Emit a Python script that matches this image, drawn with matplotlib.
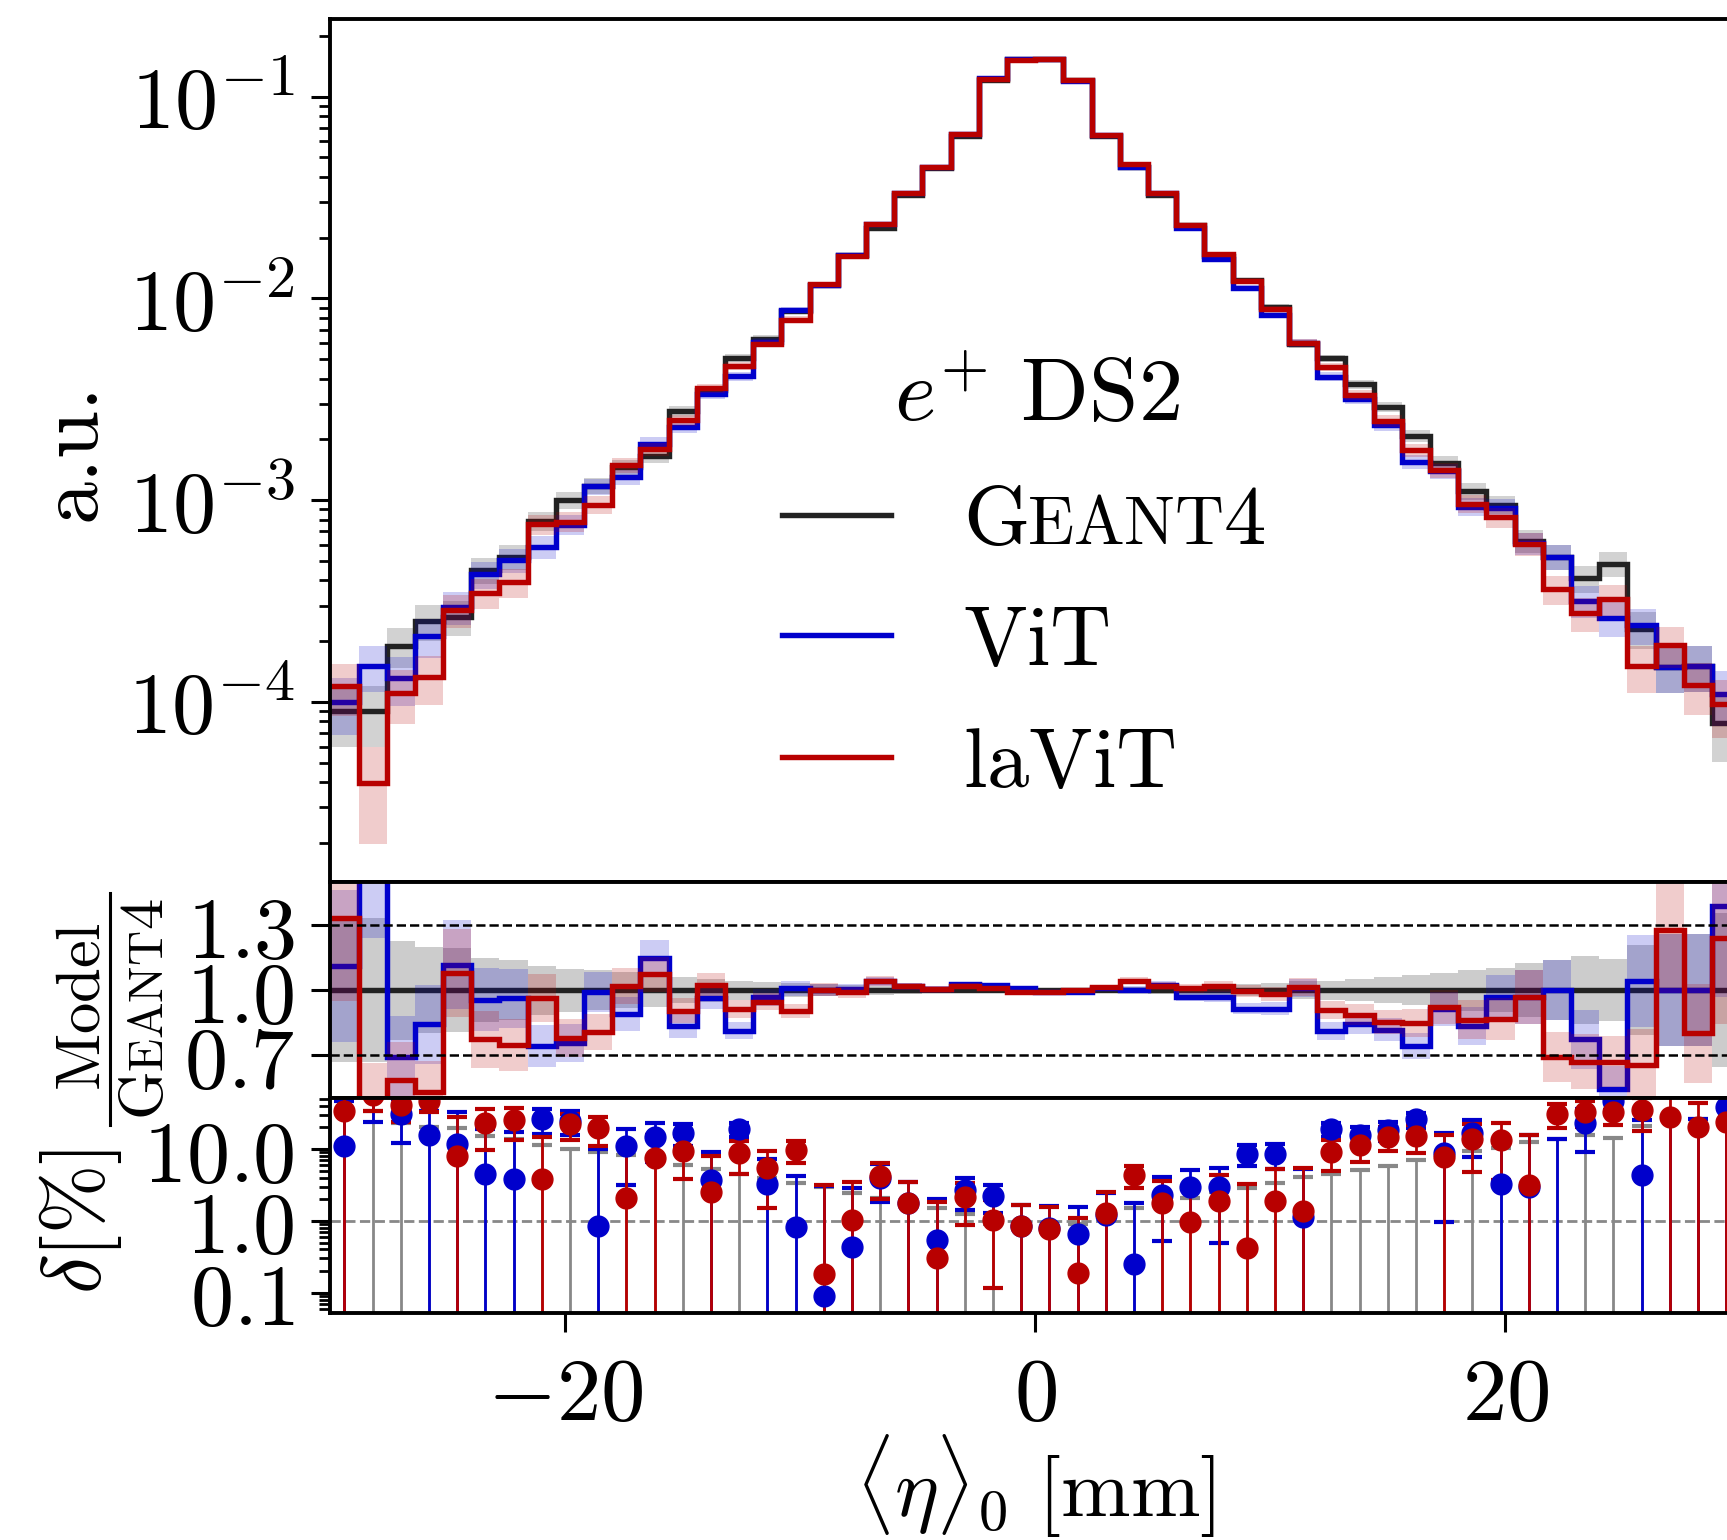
import matplotlib
matplotlib.use("Agg")
import matplotlib.pyplot as plt
import numpy as np
from matplotlib.lines import Line2D
from matplotlib.ticker import LogLocator, NullFormatter

plt.rcParams['mathtext.fontset'] = 'cm'
plt.rcParams['font.family'] = 'serif'
plt.rcParams['font.serif'] = ['DejaVu Serif']

## binning of <eta>_0 [mm]
x_lo, x_hi, n_bins = -30.0, 30.0, 50
N_EVENTS = 100000   # events per sample, sets the Poisson bands

## Geant4 histogram (fraction of showers per bin)
geant4 = [9.0e-5, 9.0e-5, 1.90e-4, 2.51e-4, 2.64e-4, 4.50e-4, 5.24e-4, 7.88e-4, 1.00e-3, 1.18e-3,
          1.46e-3, 1.66e-3, 2.75e-3, 3.50e-3, 5.07e-3, 6.30e-3, 8.70e-3, 1.17e-2, 1.64e-2, 2.24e-2,
          3.26e-2, 4.45e-2, 6.38e-2, 0.121, 0.153, 0.154, 0.121, 0.0635, 0.0446, 0.0326,
          0.0230, 0.0162, 0.0123, 9.03e-3, 5.95e-3, 5.04e-3, 3.75e-3, 2.90e-3, 2.09e-3, 1.53e-3,
          1.11e-3, 9.46e-4, 6.29e-4, 5.25e-4, 4.10e-4, 4.83e-4, 2.30e-4, 1.49e-4, 1.51e-4, 7.85e-5]

## Model / Geant4 per bin
vit_ratio = [1.11, 1.67, 0.69, 0.842, 1.118, 0.955, 0.962, 0.742, 0.755, 0.9915,
             0.89, 1.148, 0.835, 0.963, 0.812, 0.967, 1.0083, 1.0009, 1.0043, 1.040,
             1.0176, 1.0054, 1.027, 1.022, 1.0085, 0.992, 0.9934, 1.012, 1.0025, 1.023,
             0.970, 0.9706, 0.915, 0.915, 1.0115, 0.812, 0.844, 0.816, 0.742, 0.913,
             0.835, 0.967, 0.970, 1.0003, 0.773, 0.542, 1.0435, 1.0003, 1.0003, 1.387]
lavit_ratio = [1.334, 0.44, 0.585, 0.529, 1.08, 0.773, 0.747, 0.962, 0.78, 0.806,
               1.021, 1.074, 0.905, 1.0255, 0.913, 0.946, 0.903, 1.0018, 0.9897, 1.042,
               1.0176, 1.003, 1.0213, 1.0103, 0.9915, 0.9923, 1.0019, 1.0128, 1.0435, 1.018,
               1.0095, 1.0186, 0.9958, 0.981, 1.0135, 0.908, 0.886, 0.852, 0.849, 0.922,
               0.864, 0.867, 0.968, 0.69, 0.67, 0.67, 0.652, 1.28, 0.80, 1.24]

top_ticks = [1e-4, 1e-3, 1e-2, 1e-1]
top_labels = [r'$10^{-4}$', r'$10^{-3}$', r'$10^{-2}$', r'$10^{-1}$']
ratio_ticks = [0.7, 1.0, 1.3]
ratio_labels = [r'$0.7$', r'$1.0$', r'$1.3$']
delta_ticks = [0.1, 1.0, 10.0]
delta_labels = [r'$0.1$', r'$1.0$', r'$10.0$']
x_ticks = [-20, 0, 20]
x_labels = [r'$-20$', r'$0$', r'$20$']

c_g4 = '#222222'
c_vit = '#0000cc'
c_lavit = '#b80000'
LW = 3.9
FS = 61

edges = np.linspace(x_lo, x_hi, n_bins + 1)
centers = 0.5 * (edges[1:] + edges[:-1])
g4 = np.array(geant4)
vr = np.array(vit_ratio)
lr = np.array(lavit_ratio)
vit = g4 * vr
lavit = g4 * lr

def rel(v):
    return 1.0 / np.sqrt(v * N_EVENTS)

fig = plt.figure(figsize=(17.27, 15.40), dpi=100)
left, width = 0.19126, 0.8164
ax1 = fig.add_axes([left, 0.4273, width, 0.5604])
ax2 = fig.add_axes([left, 0.2868, width, 0.1405])
ax3 = fig.add_axes([left, 0.1472, width, 0.1396])

## top: histograms
for vals, col in [(g4, c_g4), (vit, c_vit), (lavit, c_lavit)]:
    r = rel(vals)
    ax1.stairs(vals * (1 + r), edges, baseline=vals * (1 - r), fill=True, color=col, alpha=0.2, lw=0)
    ax1.stairs(vals, edges, baseline=None, color=col, lw=LW)
ax1.set_yscale('log')
ax1.set_ylim(1.28e-5, 0.2427)

## middle: ratio
rg = rel(g4)
ax2.stairs(1 + rg, edges, baseline=1 - rg, fill=True, color='k', alpha=0.2, lw=0)
ax2.stairs(np.ones(n_bins), edges, baseline=None, color=c_g4, lw=LW)
for ratio, vals, col in [(vr, vit, c_vit), (lr, lavit, c_lavit)]:
    r = rel(vals)
    ax2.stairs(ratio * (1 + r), edges, baseline=ratio * (1 - r), fill=True, color=col, alpha=0.2, lw=0)
    ax2.stairs(ratio, edges, baseline=None, color=col, lw=LW)
ax2.axhline(1.3, ls='--', color='k', lw=1.8, zorder=4)
ax2.axhline(0.7, ls='--', color='k', lw=1.8, zorder=4)
ax2.set_ylim(0.5, 1.5)

## bottom: relative deviation in %
ax3.set_yscale('log')
ax3.errorbar(centers, np.zeros(n_bins), yerr=rg * 100, fmt='none', ecolor='#888888',
             elinewidth=2, capsize=7, capthick=3)
for ratio, vals, col in [(vr, vit, c_vit), (lr, lavit, c_lavit)]:
    delta = np.abs(ratio - 1) * 100
    err = ratio * rel(vals) * 100
    ax3.errorbar(centers, delta, yerr=err, fmt='o', color=col, ms=15,
                 elinewidth=2, capsize=7, capthick=3)
ax3.axhline(1.0, ls='--', color='#888888', lw=2, zorder=0.5)
ax3.set_ylim(0.0518, 50.6)

for ax in (ax1, ax2, ax3):
    ax.set_xlim(x_lo, x_hi)
    for sp in ax.spines.values():
        sp.set_linewidth(2.8)
    ax.tick_params(which='major', length=13.5, width=2.2, labelsize=62, pad=12)
    ax.tick_params(which='minor', length=8, width=2)
for ax in (ax1, ax2):
    ax.tick_params(axis='x', which='both', bottom=False, labelbottom=False)
ax3.set_xticks(x_ticks, labels=x_labels)
ax3.tick_params(axis='x', pad=14, labelsize=64)

ax1.set_yticks(top_ticks, labels=top_labels)
ax1.yaxis.set_minor_locator(LogLocator(base=10, subs=np.arange(2, 10), numticks=20))
ax1.yaxis.set_minor_formatter(NullFormatter())
ax2.set_yticks(ratio_ticks, labels=ratio_labels)
ax3.set_yticks(delta_ticks, labels=delta_labels)
ax3.yaxis.set_minor_locator(LogLocator(base=10, subs=np.arange(2, 10), numticks=20))
ax3.yaxis.set_minor_formatter(NullFormatter())

## legend (drawn by hand to get the small caps of Geant4)
ax1.text(0.3998, 0.5342, r'$e^{+}\ \mathrm{DS2}$', transform=ax1.transAxes, fontsize=64,
         ha='left', va='baseline')
hx = [0.3204, 0.3977]
for hy, col in [(0.4257, c_g4), (0.2857, c_vit), (0.1451, c_lavit)]:
    ax1.add_line(Line2D(hx, [hy, hy], transform=ax1.transAxes, color=col, lw=LW))
lx = 0.4487
ax1.text(lx, 0.2510, r'$\mathrm{ViT}$', transform=ax1.transAxes, fontsize=FS, ha='left', va='baseline')
ax1.text(lx, 0.1104, r'$\mathrm{laViT}$', transform=ax1.transAxes, fontsize=FS, ha='left', va='baseline')

fig.canvas.draw()
rend = fig.canvas.get_renderer()

# Geant4 in legend
x = lx
for piece, fs in [('G', FS), ('EANT', FS * 0.8), ('4', FS)]:
    t = ax1.text(x, 0.3917, r'$\mathrm{%s}$' % piece, transform=ax1.transAxes, fontsize=fs,
                 ha='left', va='baseline')
    bb = t.get_window_extent(rend)
    x = ax1.transAxes.inverted().transform((bb.x1, bb.y0))[0]

## axis labels
W, H = 1727.0, 1540.0
fig.text(73 / W, 1 - 452 / H, 'a.u.', family='cmr10', rotation=90, ha='center', va='center',
         fontsize=62)
fig.text(80 / W, 1 - 1222 / H, r'$\delta[\%]$', rotation=90, ha='center', va='center', fontsize=60)
fig.text(1035 / W, 1 - 1517 / H, r'$\langle\eta\rangle_0\ [\mathrm{mm}]$', ha='center',
         va='baseline', fontsize=60)

# Model / Geant4 fraction
fig.text(100 / W, 1 - 1007 / H, r'$\mathrm{Model}$', rotation=90, rotation_mode='anchor',
         ha='center', va='baseline', fontsize=45)
fig.add_artist(Line2D([110 / W, 110 / W], [1 - 893 / H, 1 - 1125 / H], transform=fig.transFigure,
                      color='k', lw=2.2))
y = 1 - 1120 / H
for piece, fs in [('G', 45), ('EANT', 45 * 0.78), ('4', 45)]:
    t = fig.text(163 / W, y, r'$\mathrm{%s}$' % piece, rotation=90, rotation_mode='anchor',
                 ha='left', va='baseline', fontsize=fs)
    bb = t.get_window_extent(rend)
    y = fig.transFigure.inverted().transform((bb.x0, bb.y1))[1]

fig.savefig('out.png', dpi=100)
